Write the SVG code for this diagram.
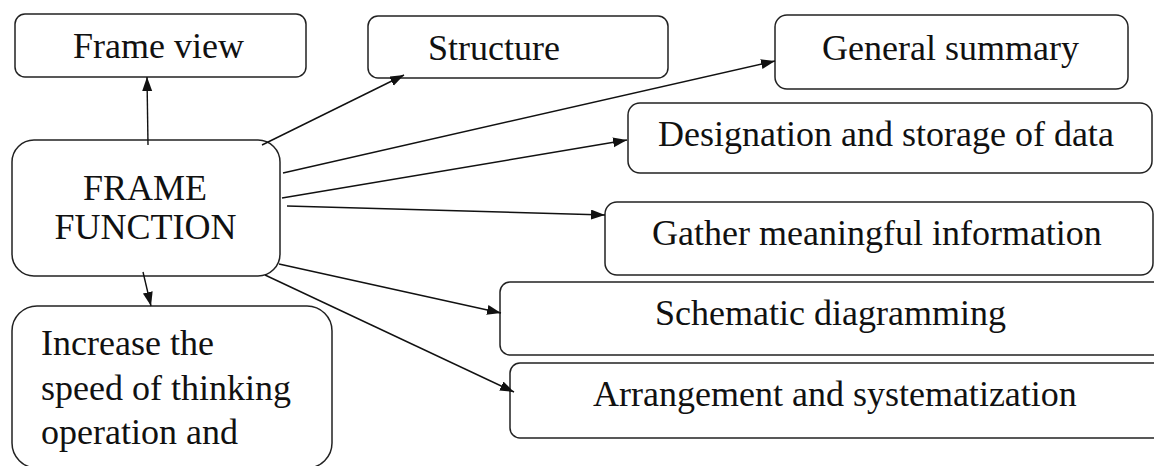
<svg xmlns="http://www.w3.org/2000/svg" width="1154" height="466" viewBox="0 0 1154 466">
<style>
.box{fill:#fff;stroke:#222;stroke-width:1.5}
.t{font-family:"Liberation Serif","Times New Roman",serif;font-size:36px;fill:#111}
.c{text-anchor:middle}
.conn line{stroke:#111;stroke-width:1.4;marker-end:url(#ah)}
</style>
<defs>
<marker id="ah" markerUnits="userSpaceOnUse" markerWidth="15" markerHeight="12" refX="14" refY="5" orient="auto">
<path d="M0,0 L14,5 L0,10 z" fill="#111"/>
</marker>
</defs>
<rect width="1154" height="466" fill="#fff"/>
<g id="frame-view"><rect class="box" x="15" y="14" width="291" height="63" rx="10"/><text class="t" x="73" y="58">Frame view</text></g>
<g id="structure"><rect class="box" x="368" y="16" width="300" height="62" rx="10"/><text class="t" x="428" y="60">Structure</text></g>
<g id="general-summary"><rect class="box" x="775" y="15" width="353" height="74" rx="12"/><text class="t" x="822" y="60">General summary</text></g>
<g id="designation"><rect class="box" x="628" y="103" width="524" height="70" rx="12"/><text class="t" x="658" y="146">Designation and storage of data</text></g>
<g id="frame-function"><rect class="box" x="12" y="140" width="268" height="136" rx="22"/><text class="t c" x="145" y="200">FRAME</text><text class="t c" x="145.5" y="239">FUNCTION</text></g>
<g id="gather"><rect class="box" x="605" y="202" width="548" height="73" rx="12"/><text class="t" x="652" y="245">Gather meaningful information</text></g>
<g id="schematic"><rect class="box" x="500" y="282" width="700" height="73" rx="10"/><text class="t" x="655" y="325">Schematic diagramming</text></g>
<g id="arrangement"><rect class="box" x="510" y="363" width="700" height="75" rx="10"/><text class="t" x="593" y="406">Arrangement and systematization</text></g>
<g id="increase"><rect class="box" x="12" y="306" width="320" height="162" rx="25"/><text class="t" x="41" y="355">Increase the</text><text class="t" x="41" y="400">speed of thinking</text><text class="t" x="41" y="444">operation and</text></g>
<g class="conn" id="connectors">
<line x1="148" y1="145" x2="147" y2="77"/>
<line x1="262" y1="145" x2="404" y2="75"/>
<line x1="283" y1="173" x2="775" y2="61"/>
<line x1="282" y1="198" x2="627" y2="140"/>
<line x1="287" y1="206" x2="605" y2="215"/>
<line x1="279" y1="264" x2="501" y2="313"/>
<line x1="265" y1="275" x2="514" y2="392"/>
<line x1="143" y1="272" x2="151" y2="306"/>
</g>
</svg>
